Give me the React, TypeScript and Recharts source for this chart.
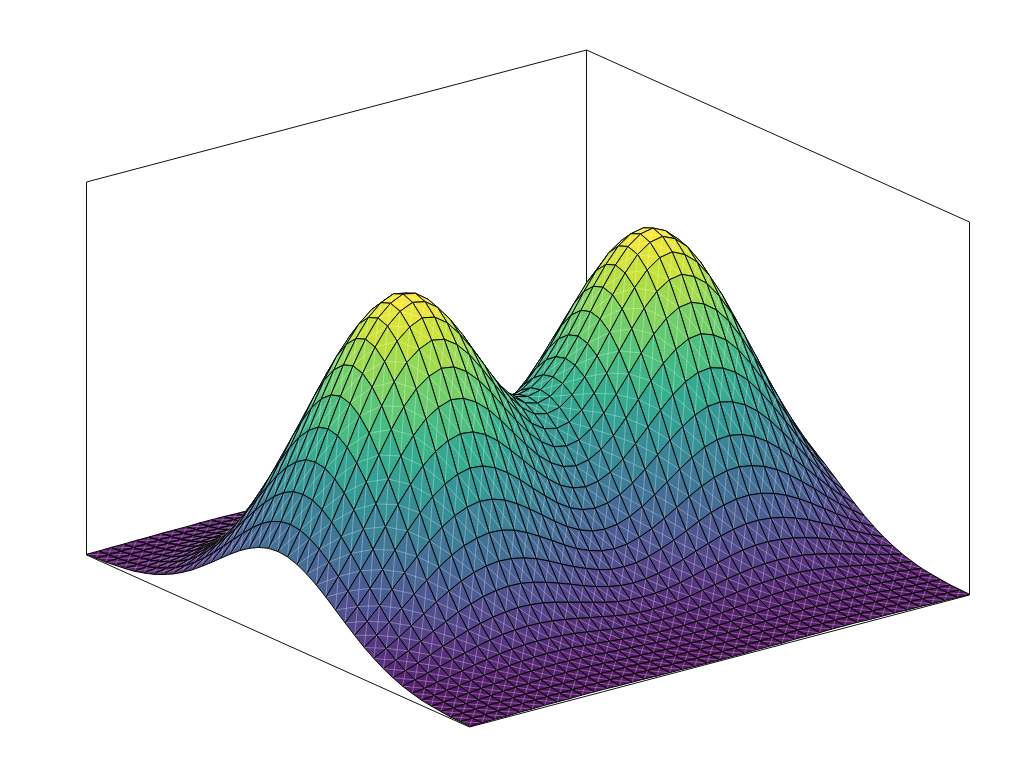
import React from 'react';
import { ComposedChart, Scatter, XAxis, YAxis } from 'recharts';

// surface height per mille of the box, one row per v step, one column per u step
const surfaceHeights: number[][] = [
  [2,2,3,3,4,4,5,5,5,6,6,6,5,5,5,4,4,4,3,3,3,3,3,4,4,4,5,5,5,6,6,6,5,5,5,4,4,3,3,2,2],
  [3,3,4,5,6,7,8,8,9,9,9,9,9,9,8,7,7,6,6,5,5,5,6,6,7,7,8,9,9,9,9,9,9,8,8,7,6,5,4,3,3],
  [4,5,7,8,9,11,12,13,14,14,15,15,14,13,13,12,11,10,9,9,8,9,9,10,11,12,13,13,14,15,15,14,14,13,12,11,9,8,7,5,4],
  [7,8,10,12,14,17,19,20,22,22,23,23,22,21,19,18,16,15,14,13,13,13,14,15,16,18,19,21,22,23,23,22,22,20,19,17,14,12,10,8,7],
  [10,12,15,19,22,25,28,31,33,34,35,34,33,32,29,27,25,23,21,20,20,20,21,23,25,27,29,32,33,34,35,34,33,31,28,25,22,19,15,12,10],
  [14,18,23,27,32,37,41,45,48,50,51,50,49,46,43,40,36,33,31,29,29,29,31,33,36,40,43,46,49,50,51,50,48,45,41,37,32,27,23,18,14],
  [21,26,33,39,46,53,59,65,69,72,73,72,70,67,62,57,52,48,45,42,42,42,45,48,52,57,62,67,70,72,73,72,69,65,59,53,46,39,33,26,21],
  [29,37,46,55,65,74,83,91,97,100,102,101,98,93,87,80,74,67,62,59,58,59,62,67,74,80,87,93,98,101,102,100,97,91,83,74,65,55,46,37,29],
  [40,50,62,75,89,102,114,124,132,137,140,139,135,128,119,110,101,92,85,81,80,81,85,92,101,110,119,128,135,139,140,137,132,124,114,102,89,75,62,50,40],
  [53,67,83,100,118,135,152,165,176,183,186,185,179,170,159,147,134,123,114,108,106,108,114,123,134,147,159,170,179,185,186,183,176,165,152,135,118,100,83,67,53],
  [69,87,108,130,153,176,197,215,229,238,242,240,233,222,207,190,174,160,148,140,138,140,148,160,174,190,207,222,233,240,242,238,229,215,197,176,153,130,108,87,69],
  [87,111,137,165,195,223,250,273,290,301,307,305,296,281,262,242,221,202,188,178,175,178,188,202,221,242,262,281,296,305,307,301,290,273,250,223,195,165,137,111,87],
  [108,137,170,205,241,276,309,337,359,373,380,377,366,347,324,299,273,250,232,220,216,220,232,250,273,299,324,347,366,377,380,373,359,337,309,276,241,205,170,137,108],
  [130,165,205,247,290,333,373,407,433,450,458,455,441,419,391,360,330,302,280,266,261,266,280,302,330,360,391,419,441,455,458,450,433,407,373,333,290,247,205,165,130],
  [153,195,241,290,342,392,438,479,509,529,539,535,519,493,460,424,388,355,329,313,307,313,329,355,388,424,460,493,519,535,539,529,509,479,438,392,342,290,241,195,153],
  [176,223,276,333,392,450,503,549,585,607,619,614,595,566,528,486,445,407,378,359,352,359,378,407,445,486,528,566,595,614,619,607,585,549,503,450,392,333,276,223,176],
  [197,250,309,373,439,503,563,615,654,679,692,687,666,633,591,544,498,456,423,401,394,401,423,456,498,544,591,633,666,687,692,679,654,615,563,503,439,373,309,250,197],
  [215,273,337,407,479,550,615,671,714,741,756,750,727,691,645,594,543,498,461,438,430,438,461,498,543,594,645,691,727,750,756,741,714,671,615,550,479,407,337,273,215],
  [229,290,359,433,509,585,654,714,760,789,805,798,774,735,687,633,578,530,491,466,458,466,491,530,578,633,687,735,774,798,805,789,760,714,654,585,509,433,359,290,229],
  [238,301,373,450,529,607,679,741,789,820,835,828,804,763,713,657,600,550,510,484,475,484,510,550,600,657,713,763,804,828,835,820,789,741,679,607,529,450,373,301,238],
  [241,305,377,455,536,615,688,751,799,830,846,839,814,773,722,665,608,557,516,490,481,490,516,557,608,665,722,773,814,839,846,830,799,751,688,615,536,455,377,305,241],
  [238,301,373,450,529,607,679,741,789,820,835,828,804,763,713,657,600,550,510,484,475,484,510,550,600,657,713,763,804,828,835,820,789,741,679,607,529,450,373,301,238],
  [229,290,359,433,509,585,654,714,760,789,805,798,774,735,687,633,578,530,491,466,458,466,491,530,578,633,687,735,774,798,805,789,760,714,654,585,509,433,359,290,229],
  [215,273,337,407,479,550,615,671,714,741,756,750,727,691,645,594,543,498,461,438,430,438,461,498,543,594,645,691,727,750,756,741,714,671,615,550,479,407,337,273,215],
  [197,250,309,373,439,503,563,615,654,679,692,687,666,633,591,544,498,456,423,401,394,401,423,456,498,544,591,633,666,687,692,679,654,615,563,503,439,373,309,250,197],
  [176,223,276,333,392,450,503,549,585,607,619,614,595,566,528,486,445,407,378,359,352,359,378,407,445,486,528,566,595,614,619,607,585,549,503,450,392,333,276,223,176],
  [153,195,241,290,342,392,438,479,509,529,539,535,519,493,460,424,388,355,329,313,307,313,329,355,388,424,460,493,519,535,539,529,509,479,438,392,342,290,241,195,153],
  [130,165,205,247,290,333,373,407,433,450,458,455,441,419,391,360,330,302,280,266,261,266,280,302,330,360,391,419,441,455,458,450,433,407,373,333,290,247,205,165,130],
  [108,137,170,205,241,276,309,337,359,373,380,377,366,347,324,299,273,250,232,220,216,220,232,250,273,299,324,347,366,377,380,373,359,337,309,276,241,205,170,137,108],
  [87,111,137,165,195,223,250,273,290,301,307,305,296,281,262,242,221,202,188,178,175,178,188,202,221,242,262,281,296,305,307,301,290,273,250,223,195,165,137,111,87],
  [69,87,108,130,153,176,197,215,229,238,242,240,233,222,207,190,174,160,148,140,138,140,148,160,174,190,207,222,233,240,242,238,229,215,197,176,153,130,108,87,69],
  [53,67,83,100,118,135,152,165,176,183,186,185,179,170,159,147,134,123,114,108,106,108,114,123,134,147,159,170,179,185,186,183,176,165,152,135,118,100,83,67,53],
  [40,50,62,75,89,102,114,124,132,137,140,139,135,128,119,110,101,92,85,81,80,81,85,92,101,110,119,128,135,139,140,137,132,124,114,102,89,75,62,50,40],
  [29,37,46,55,65,74,83,91,97,100,102,101,98,93,87,80,74,67,62,59,58,59,62,67,74,80,87,93,98,101,102,100,97,91,83,74,65,55,46,37,29],
  [21,26,33,39,46,53,59,65,69,72,73,72,70,67,62,57,52,48,45,42,42,42,45,48,52,57,62,67,70,72,73,72,69,65,59,53,46,39,33,26,21],
  [14,18,23,27,32,37,41,45,48,50,51,50,49,46,43,40,36,33,31,29,29,29,31,33,36,40,43,46,49,50,51,50,48,45,41,37,32,27,23,18,14],
  [10,12,15,19,22,25,28,31,33,34,35,34,33,32,29,27,25,23,21,20,20,20,21,23,25,27,29,32,33,34,35,34,33,31,28,25,22,19,15,12,10],
  [7,8,10,12,14,17,19,20,22,22,23,23,22,21,19,18,16,15,14,13,13,13,14,15,16,18,19,21,22,23,23,22,22,20,19,17,14,12,10,8,7],
  [4,5,7,8,9,11,12,13,14,14,15,15,14,13,13,12,11,10,9,9,8,9,9,10,11,12,13,13,14,15,15,14,14,13,12,11,9,8,7,5,4],
  [3,3,4,5,6,7,8,8,9,9,9,9,9,9,8,7,7,6,6,5,5,5,6,6,7,7,8,9,9,9,9,9,9,8,8,7,6,5,4,3,3],
  [2,2,3,3,4,4,5,5,5,6,6,6,5,5,5,4,4,4,3,3,3,3,3,4,4,4,5,5,5,6,6,6,5,5,5,4,4,3,3,2,2],
];

const viridis = ['#440154', '#482475', '#414487', '#355f8d', '#2a788e', '#21918c', '#22a884', '#44bf70', '#7ad151', '#bddf26', '#fde725'];

// box edges as [u, v, z] corners
const boxOutline = [[0, 1, 0], [0, 1, 1], [1, 1, 1], [1, 0, 1], [1, 0, 0], [0, 0, 0], [0, 1, 0]];
const backEdge = [[1, 1, 1], [1, 1, 0]];

const WIDTH = 1024;
const HEIGHT = 780;
const STEPS = surfaceHeights.length - 1;
const MAX_H = 846;

// oblique view of the unit box, in the units of the chart axes
const project = (u: number, v: number, z: number) => ({
  x: 469.5 + 500 * u - 383 * v,
  y: 727 - 132 * u - 172 * v - 373 * z,
});

const mix = (a: number[], b: number[], t: number) => a.map((c, i) => c + (b[i] - c) * t);
const rgb = (hex: string) => [1, 3, 5].map((i) => parseInt(hex.slice(i, i + 2), 16));

const colorFor = (h: number) => {
  const t = Math.min(1, h / MAX_H) * (viridis.length - 1);
  const i = Math.min(viridis.length - 2, Math.floor(t));
  const c = mix(mix(rgb(viridis[i]), rgb(viridis[i + 1]), t - i), [255, 255, 255], 0.08);
  return `rgb(${c.map(Math.round).join(',')})`;
};

const cells: any[] = [];
for (let r = 0; r < STEPS; r++) {
  for (let k = 0; k < STEPS; k++) {
    const corners = [[k, r], [k + 1, r], [k + 1, r + 1], [k, r + 1]].map(([a, b]) =>
      project(a / STEPS, b / STEPS, (surfaceHeights[b][a] * 0.995) / 1000),
    );
    const x = corners.reduce((s, c) => s + c.x, 0) / 4;
    const y = corners.reduce((s, c) => s + c.y, 0) / 4;
    const h = (surfaceHeights[r][k] + surfaceHeights[r][k + 1] + surfaceHeights[r + 1][k] + surfaceHeights[r + 1][k + 1]) / 4;
    cells.push({ x, y, corners, fill: colorFor(h), depth: 132 * k + 172 * r });
  }
}
// far cells first so nearer ones paint over them
cells.sort((a, b) => b.depth - a.depth);

const toPoints = (list: number[][]) => list.map(([u, v, z]) => project(u, v, z));

const CellShape = (props: any) => {
  const { cx, cy, payload } = props;
  const pts = payload.corners.map((c: any) => ({ x: cx + c.x - payload.x, y: cy + c.y - payload.y }));
  const outline = pts.map((p: any) => `${p.x},${p.y}`).join(' ');
  return (
    <g>
      <polygon points={outline} fill={payload.fill} />
      <path d={`M${pts[0].x},${pts[0].y}L${pts[2].x},${pts[2].y}M${pts[1].x},${pts[1].y}L${pts[3].x},${pts[3].y}`} stroke="#fff" strokeOpacity={0.3} strokeWidth={1} fill="none" />
      <polygon points={outline} fill="none" stroke="#000" strokeWidth={0.95} />
    </g>
  );
};

const App = () => (
  <div style={{ position: 'absolute', left: 0, top: 0, width: WIDTH, height: HEIGHT, background: '#fff' }}>
    <ComposedChart width={WIDTH} height={HEIGHT} margin={{ top: 0, right: 0, bottom: 0, left: 0 }}>
      <XAxis type="number" dataKey="x" domain={[0, WIDTH]} hide />
      <YAxis type="number" dataKey="y" domain={[0, HEIGHT]} reversed hide />
      <Scatter data={toPoints(boxOutline)} line={{ stroke: '#111', strokeWidth: 1 }} shape={() => <g />} isAnimationActive={false} />
      <Scatter data={toPoints(backEdge)} line={{ stroke: '#111', strokeWidth: 1 }} shape={() => <g />} isAnimationActive={false} />
      <Scatter data={cells} shape={CellShape} isAnimationActive={false} />
    </ComposedChart>
  </div>
);

export default App;
